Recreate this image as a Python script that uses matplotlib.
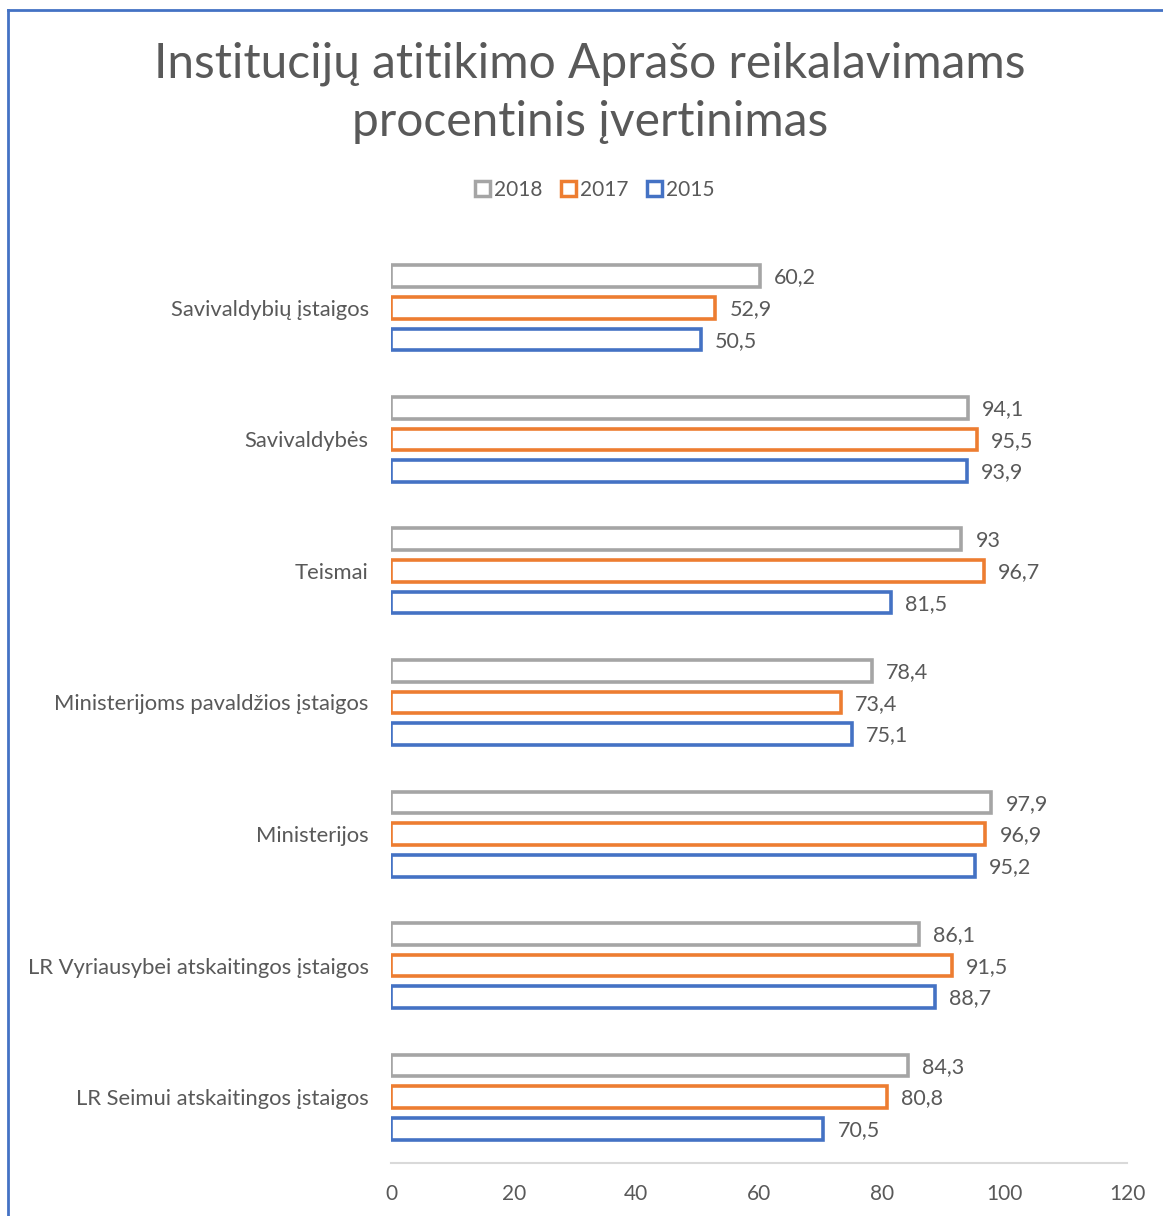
import matplotlib
matplotlib.use("Agg")
import matplotlib.pyplot as plt
from matplotlib.lines import Line2D
import numpy as np

categories = ["Savivaldybių įstaigos", "Savivaldybės", "Teismai",
              "Ministerijoms pavaldžios įstaigos", "Ministerijos",
              "LR Vyriausybei atskaitingos įstaigos", "LR Seimui atskaitingos įstaigos"]
series_names = ["2018", "2017", "2015"]
v2018 = [60.2, 94.1, 93.0, 78.4, 97.9, 86.1, 84.3]
v2017 = [52.9, 95.5, 96.7, 73.4, 96.9, 91.5, 80.8]
v2015 = [50.5, 93.9, 81.5, 75.1, 95.2, 88.7, 70.5]
labels2018 = ["60,2", "94,1", "93", "78,4", "97,9", "86,1", "84,3"]
labels2017 = ["52,9", "95,5", "96,7", "73,4", "96,9", "91,5", "80,8"]
labels2015 = ["50,5", "93,9", "81,5", "75,1", "95,2", "88,7", "70,5"]
xticks = [0, 20, 40, 60, 80, 100, 120]
title = "Institucijų atitikimo Aprašo reikalavimams\nprocentinis įvertinimas"

colors = ["#A5A5A5", "#ED7D31", "#4472C4"]
text_color = "#595959"
plt.rcParams['font.family'] = ['Lato', 'DejaVu Sans']

W, H = 1163, 1216
fig = plt.figure(figsize=(W / 100, H / 100), dpi=100)
ax = fig.add_axes([391 / W, 1 - 1163 / H, (1127 - 391) / W, (1163 - 242) / H])

y = np.arange(len(categories))
pitch = 0.24
bh = 0.165
all_vals = [v2018, v2017, v2015]
all_labels = [labels2018, labels2017, labels2015]
for i, (vals, labs, c, name) in enumerate(zip(all_vals, all_labels, colors, series_names)):
    pos = y + (i - 1) * pitch
    ax.barh(pos, vals, height=bh, facecolor="white", edgecolor=c, linewidth=2.6, label=name)
    for p, v, l in zip(pos, vals, labs):
        ax.text(v + 2.3, p + 0.01, l, va="center", ha="left", fontsize=15.5, color=text_color)

ax.set_ylim(len(categories) - 0.5, -0.5)
ax.set_xlim(0, 120)
ax.set_yticks(y)
ax.set_yticklabels(categories, fontsize=15.8, color=text_color)
ax.set_xticks(xticks)
ax.set_xticklabels([str(t) for t in xticks], fontsize=15, color=text_color)
ax.tick_params(axis="both", length=0)
ax.tick_params(axis="y", pad=16)
ax.tick_params(axis="x", pad=15)
for s in ["top", "right", "left"]:
    ax.spines[s].set_visible(False)
ax.spines["bottom"].set_color("#D9D9D9")
ax.spines["bottom"].set_linewidth(1.5)

fig.text(590 / W, 1 - 93 / H, title, ha="center", va="center", fontsize=34.5,
         color=text_color, linespacing=1.38)

handles = [plt.Rectangle((0, 0), 1, 1, facecolor="white", edgecolor=c, linewidth=2.5) for c in colors]
fig.legend(handles, series_names, loc="center", bbox_to_anchor=(595 / W, 1 - 190 / H),
           ncol=3, frameon=False, fontsize=15, handlelength=0.7, handleheight=0.7,
           handletextpad=0.2, columnspacing=0.9, labelcolor=text_color)

fig.add_artist(Line2D([8 / W, 1], [1 - 10 / H, 1 - 10 / H], color="#4472C4", linewidth=2,
                      transform=fig.transFigure))
fig.add_artist(Line2D([8 / W, 8 / W], [0, 1 - 10 / H], color="#4472C4", linewidth=2,
                      transform=fig.transFigure))

fig.savefig("out.png", dpi=100, facecolor="white")
